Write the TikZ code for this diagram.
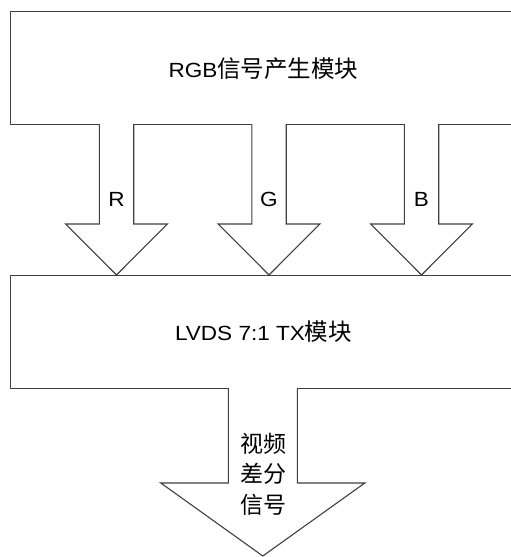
\documentclass[tikz,border=0pt]{standalone}
\usepackage{fontspec}
\setmainfont{Liberation Sans}[FakeStretch=1.1]
\newfontfamily\cjkfam{Noto Sans CJK SC}
\newcommand\cjk[1]{{\fontsize{23.5}{27}\selectfont\cjkfam #1}}
\usetikzlibrary{calc}
\definecolor{edge}{HTML}{404040}
\tikzset{
  module/.style={draw=edge, line width=1.1pt, fill=white, rectangle, minimum width=510pt, minimum height=113pt, inner sep=0pt, anchor=north west},
  blockarrow/.style={draw=edge, line width=1.1pt, fill=white, line join=miter},
  lbl/.style={inner sep=0pt, font=\fontsize{20.5}{24}\selectfont, text=black},
}
\begin{document}
\begin{tikzpicture}[x=1pt,y=-1pt]
\clip (0,0) rectangle (511,557);
\fill[white] (0,0) rectangle (511,557);
% modules
\node[module] (gen) at (10,11) {};
\node[module] (tx) at (10,275) {};
\node[lbl] (gentext) at (263.5,69) {RGB\cjk{信号产生模块}};
\node[lbl] (txtext) at (263.5,332) {LVDS 7:1 TX\cjk{模块}};
% three arrows R G B
\foreach \name/\cx/\t in {r/116.5/R, g/269/G, b/421.5/B}{
  \coordinate (\name top) at (\cx,124);
  \coordinate (\name tip) at (\cx,275);
  \draw[blockarrow] ($(\name top)+(-17.2,0)$) -- ($(\name top)+(-17.2,100)$) -- ($(\name top)+(-50.8,100)$)
     -- (\name tip) -- ($(\name top)+(50.8,100)$) -- ($(\name top)+(17.2,100)$) -- ($(\name top)+(17.2,0)$);
  \node[lbl] (\name lbl) at (\cx,199) {\t};
}
% output arrow
\coordinate (otop) at (262.8,388);
\coordinate (otip) at (262.8,556);
\draw[blockarrow] ($(otop)+(-34.5,0)$) -- ($(otop)+(-34.5,95)$) -- ($(otop)+(-102,95)$)
   -- (otip) -- ($(otop)+(102,95)$) -- ($(otop)+(34.5,95)$) -- ($(otop)+(34.5,0)$);
\node[lbl, align=center, font=\fontsize{23}{30.5}\selectfont\cjkfam] (olbl) at (263.3,474) {视频\\差分\\信号};
\end{tikzpicture}
\end{document}
